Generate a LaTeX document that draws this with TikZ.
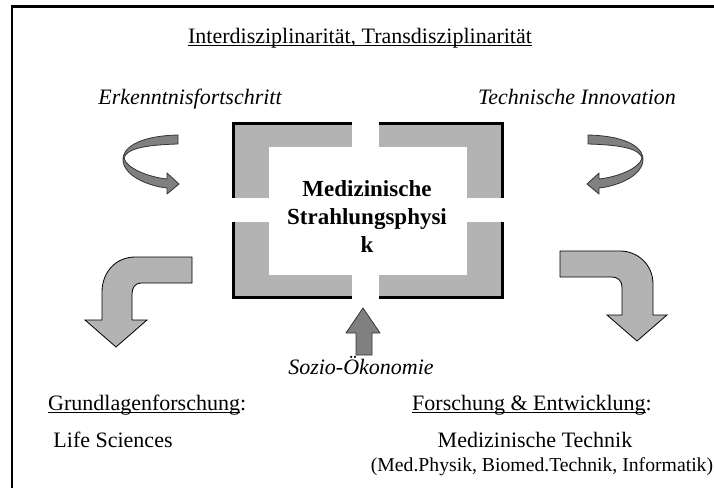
\documentclass[tikz,border=0pt]{standalone}
\usepackage{fontspec}
\setmainfont{Liberation Serif}
\definecolor{framegray}{HTML}{B3B3B3}
\definecolor{arrowgray}{HTML}{808080}
\newcommand{\ulin}[1]{\leavevmode\setbox0\hbox{#1}\rlap{\rule[-3pt]{\wd0}{1.1pt}}\box0}

\tikzset{
  txt/.style={inner sep=0pt, anchor=base, font=\fontsize{22}{26}\selectfont},
  ribbon/.style={fill=arrowgray, draw=black!80, line width=0.8pt, line join=round},
  bent/.style={fill=framegray, draw=black, line width=0.8pt},
  gap/.style={fill=white, draw=none}
}

\begin{document}
\begin{tikzpicture}[x=1pt, y=-1pt]
\useasboundingbox (0,0) rectangle (714,488);
% outer frame
\draw[line width=2.5pt] (12,488) -- (12,6.5) -- (714,6.5);

% labels
\node[txt] (title) at (360,43) {\ulin{Interdisziplinarität, Transdisziplinarität}};
\node[txt, font=\itshape\fontsize{22}{26}\selectfont] (erkenntnis) at (190,104) {Erkenntnisfortschritt};
\node[txt, font=\itshape\fontsize{22}{26}\selectfont] (innovation) at (577,104) {Technische Innovation};

% central frame
\fill[framegray] (233,123) rectangle (502,297);
\draw[line width=3pt] (233,123) rectangle (502,297);
\fill[white] (269,147) rectangle (467,275);
\fill[gap] (352,118) rectangle (379,302);
\fill[gap] (228,198) rectangle (507,222);
\node[inner sep=0pt, align=center, font=\bfseries\fontsize{23}{28}\selectfont] (core) at (367,217)
  {Medizinische\\Strahlungsphysi\\k};

% curved arrows
\draw[ribbon] (178,135) .. controls (135,136) and (122,150) .. (123,160)
  .. controls (124,176) and (148,186) .. (167,188) -- (167,194) -- (179,184)
  -- (167,173) -- (167,179) .. controls (148,177) and (126,168) .. (124,158)
  .. controls (126,150) and (140,145) .. (178,144) -- cycle;
\begin{scope}[shift={(766,0)}, xscale=-1]
\draw[ribbon] (178,135) .. controls (135,136) and (122,150) .. (123,160)
  .. controls (124,176) and (148,186) .. (167,188) -- (167,194) -- (179,184)
  -- (167,173) -- (167,179) .. controls (148,177) and (126,168) .. (124,158)
  .. controls (126,150) and (140,145) .. (178,144) -- cycle;
\end{scope}

% bent arrows
\draw[bent] (192,257) -- (135,257) .. controls (116,257) and (102,272) .. (102,292)
  -- (102,320) -- (85,320) -- (116,347) -- (147,320) -- (132,320) -- (132,294)
  .. controls (132,288) and (135,283) .. (141,283) -- (192,283) -- cycle;
\draw[bent] (560,251) -- (620,251) .. controls (638,251) and (653,265) .. (653,284)
  -- (653,315) -- (667,315) -- (637,341) -- (607,315) -- (622,315) -- (622,287)
  .. controls (622,281) and (618,277) .. (612,277) -- (560,277) -- cycle;

% up arrow
\draw[ribbon] (356,355) -- (356,333) -- (346,333) -- (363,308) -- (380,333)
  -- (372,333) -- (372,355) -- cycle;
\node[txt, font=\itshape\fontsize{22}{26}\selectfont] (sozio) at (361,374) {Sozio-Ökonomie};

% bottom texts
\node[txt, anchor=base west] (grundlagen) at (48,410) {\ulin{Grundlagenforschung}:};
\node[txt] (life) at (113,447) {Life Sciences};
\node[txt, anchor=base west] (fue) at (412,410) {\ulin{Forschung \& Entwicklung}:};
\node[txt] (medtech) at (535,447) {Medizinische Technik};
\node[txt, font=\fontsize{19.7}{24}\selectfont] (subfields) at (542,471) {(Med.Physik, Biomed.Technik, Informatik)};
\end{tikzpicture}
\end{document}
